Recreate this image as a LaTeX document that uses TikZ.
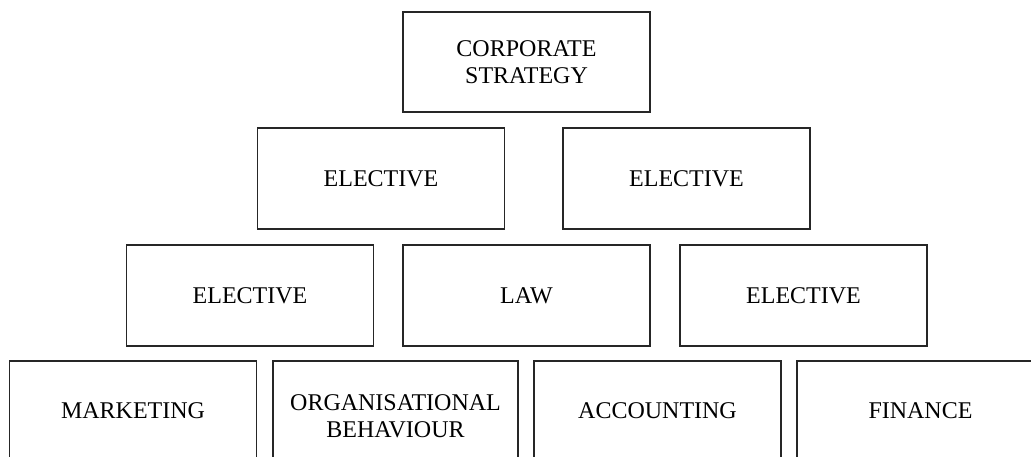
\documentclass[tikz,border=0pt]{standalone}
\usepackage{fontspec}
\setmainfont{Liberation Serif}
\begin{document}
\begin{tikzpicture}[x=1pt,y=-1pt,
  course/.style={draw=black!85, line width=1.3pt, rectangle, inner sep=0pt,
    minimum width=247pt, minimum height=100pt, align=center,
    font=\fontsize{24}{27}\selectfont}]
\useasboundingbox (0,0) rectangle (1031,456);
\clip (0,0) rectangle (1031,456);
\node[course] (corp) at (526.5,62) {CORPORATE\\STRATEGY};
\node[course, minimum height=101pt] (el1) at (381,178.5) {ELECTIVE};
\node[course, minimum height=101pt] (el2) at (686.5,178.5) {ELECTIVE};
\node[course, minimum height=101pt] (el3) at (250,295.5) {ELECTIVE};
\node[course, minimum height=101pt] (law) at (526.5,295.5) {LAW};
\node[course, minimum height=101pt] (el4) at (803.5,295.5) {ELECTIVE};
\node[course] (mkt) at (133,411) {MARKETING};
\node[course, minimum width=245pt, minimum height=110pt] (ob) at (395.5,416) {ORGANISATIONAL\\BEHAVIOUR};
\node[course] (acc) at (657.5,411) {ACCOUNTING};
\node[course] (fin) at (920.5,411) {FINANCE};
\end{tikzpicture}
\end{document}
